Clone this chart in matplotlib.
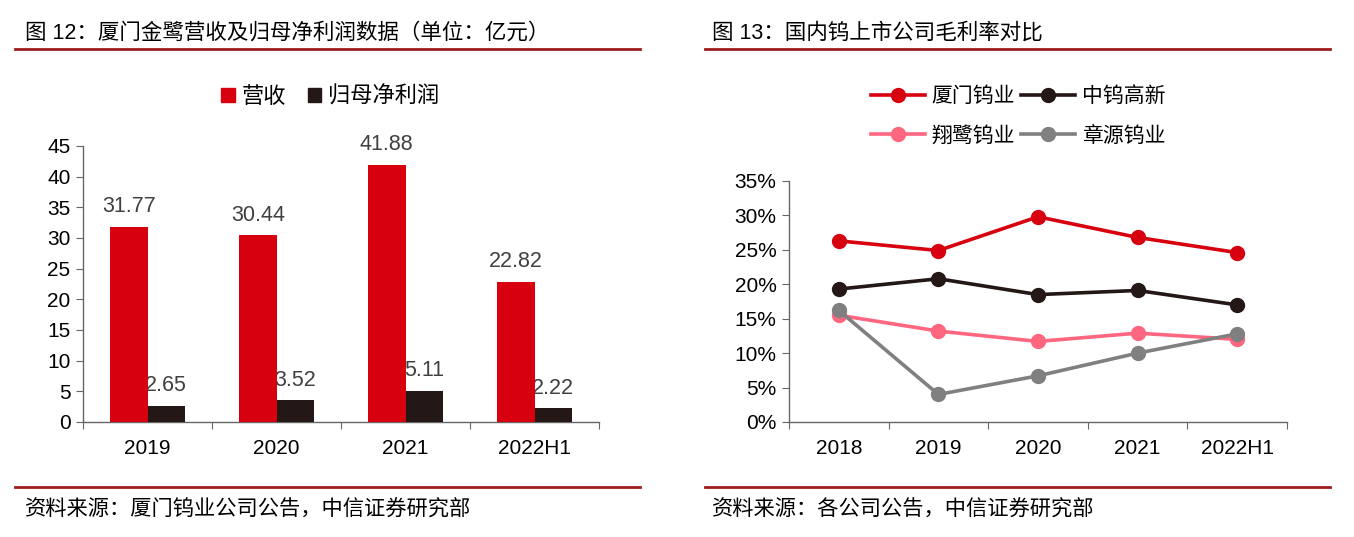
import matplotlib
matplotlib.use("Agg")
import matplotlib.pyplot as plt
from matplotlib.lines import Line2D
from matplotlib.patches import Patch
from matplotlib.ticker import FuncFormatter

plt.rcParams['font.family'] = ['Liberation Sans', 'Noto Sans CJK SC', 'DejaVu Sans']

# left chart data
bar_years = ['2019', '2020', '2021', '2022H1']
revenue = [31.77, 30.44, 41.88, 22.82]
net_profit = [2.65, 3.52, 5.11, 2.22]

# right chart data
line_years = ['2018', '2019', '2020', '2021', '2022H1']
xiamen = [26.3, 24.9, 29.8, 26.8, 24.6]
zhongwu = [19.3, 20.8, 18.5, 19.1, 17.0]
xianglu = [15.5, 13.2, 11.7, 12.9, 12.0]
zhangyuan = [16.2, 4.0, 6.7, 10.0, 12.8]

RED = '#D7000F'
BLACK = '#231815'
PINK = '#FF6680'
GRAY = '#808080'
DARKRED = '#9E1B1E'
AXIS = '#666666'
FS = 15

fig = plt.figure(figsize=(13.54, 5.37), dpi=100)

# header / footer decorations
fig.text(0.0185, 0.9385, '图 12：厦门金鹭营收及归母净利润数据（单位：亿元）', fontsize=15.5, va='center')
fig.text(0.526, 0.9385, '图 13：国内钨上市公司毛利率对比', fontsize=15.5, va='center')
fig.add_artist(Line2D([0.011, 0.473], [0.9088, 0.9088], color=DARKRED, lw=2))
fig.add_artist(Line2D([0.521, 0.982], [0.9088, 0.9088], color=DARKRED, lw=2))
fig.add_artist(Line2D([0.011, 0.473], [0.0931, 0.0931], color=DARKRED, lw=2))
fig.add_artist(Line2D([0.521, 0.982], [0.0931, 0.0931], color=DARKRED, lw=2))
fig.text(0.0185, 0.0503, '资料来源：厦门钨业公司公告，中信证券研究部', fontsize=15.3, va='center')
fig.text(0.526, 0.0503, '资料来源：各公司公告，中信证券研究部', fontsize=15.3, va='center')


def style_axes(ax, n):
    for s in ['top', 'right']:
        ax.spines[s].set_visible(False)
    for s in ['left', 'bottom']:
        ax.spines[s].set_color(AXIS)
        ax.spines[s].set_linewidth(1)
    ax.set_xlim(-0.5, n - 0.5)
    ax.set_xticks([i - 0.5 for i in range(n + 1)])
    ax.set_xticklabels([])
    ax.tick_params(axis='x', which='major', length=5, color=AXIS, direction='out')
    ax.tick_params(axis='y', length=5, color=AXIS, direction='out', labelsize=FS, pad=4)
    ax.tick_params(axis='x', which='minor', length=0, labelsize=FS, pad=12)


# bar chart
ax1 = fig.add_axes([0.0613, 0.2142, 0.3811, 0.514])
x = range(len(bar_years))
w = 0.29
b1 = ax1.bar([i - w / 2 for i in x], revenue, w, color=RED, zorder=3)
b2 = ax1.bar([i + w / 2 for i in x], net_profit, w, color=BLACK, zorder=3)
for bars, vals in [(b1, revenue), (b2, net_profit)]:
    for r, v in zip(bars, vals):
        ax1.annotate(f'{v:.2f}', (r.get_x() + r.get_width() / 2, v), xytext=(0, 7),
                     textcoords='offset points', ha='center', va='bottom',
                     fontsize=15.5, color='#404040', zorder=1)
ax1.set_ylim(0, 45)
ax1.set_yticks(range(0, 46, 5))
style_axes(ax1, len(bar_years))
ax1.set_xticks(list(x), minor=True)
ax1.set_xticklabels(bar_years, minor=True)

fig.legend(handles=[Patch(color=RED, label='营收'), Patch(color=BLACK, label='归母净利润')],
           loc='center', bbox_to_anchor=(0.244, 0.819), ncol=2, frameon=False,
           fontsize=16, handlelength=0.6, handleheight=0.6, handletextpad=0.3,
           columnspacing=1.0)

# line chart
ax2 = fig.add_axes([0.5827, 0.2142, 0.3678, 0.4488])
xl = range(len(line_years))
series = [('厦门钨业', xiamen, RED), ('中钨高新', zhongwu, BLACK),
          ('翔鹭钨业', xianglu, PINK), ('章源钨业', zhangyuan, GRAY)]
handles = []
for name, vals, c in series:
    h, = ax2.plot(list(xl), vals, color=c, lw=2.6, marker='o', markersize=10,
                  label=name, clip_on=False, zorder=3)
    handles.append(h)
ax2.set_ylim(0, 35)
ax2.set_yticks(range(0, 36, 5))
ax2.yaxis.set_major_formatter(FuncFormatter(lambda v, p: f'{v:.0f}%'))
style_axes(ax2, len(line_years))
ax2.set_xticks(list(xl), minor=True)
ax2.set_xticklabels(line_years, minor=True)

# legend filled row by row like the original
order = [handles[0], handles[2], handles[1], handles[3]]
fig.legend(handles=order, loc='center', bbox_to_anchor=(0.752, 0.784), ncol=2,
           frameon=False, fontsize=FS, handlelength=2.6, handletextpad=0.3,
           columnspacing=0.3, labelspacing=0.95)

fig.savefig('out.png', dpi=100)
